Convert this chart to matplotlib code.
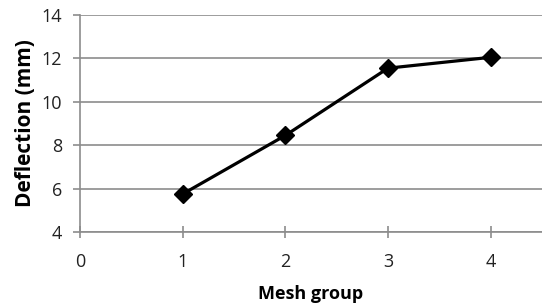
import matplotlib
matplotlib.use("Agg")
import matplotlib.pyplot as plt

mesh_group = [1, 2, 3, 4]
deflection = [5.75, 8.45, 11.55, 12.05]
x_ticks = [0, 1, 2, 3, 4]
y_ticks = [4, 6, 8, 10, 12, 14]

plt.rcParams['font.family'] = ['Open Sans', 'DejaVu Sans']

fig = plt.figure(figsize=(5.42, 3.07), dpi=100)
ax = fig.add_axes([80/542, 1-232/307, 1-80/542, (232-15)/307])

ax.plot(mesh_group, deflection, color='black', lw=2.3, marker='D', markersize=9, zorder=3, clip_on=False)

ax.set_xlim(0, 4.5)
ax.set_ylim(4, 14)
ax.set_xticks(x_ticks)
ax.set_yticks(y_ticks)
ax.grid(axis='y', color='#8c8c8c', lw=1.2)
ax.set_axisbelow(True)
for s in ['top', 'right']:
    ax.spines[s].set_visible(False)
for s in ['left', 'bottom']:
    ax.spines[s].set_color('#8c8c8c')
    ax.spines[s].set_linewidth(1.2)
ax.tick_params(axis='x', direction='inout', length=8, width=1.2, color='#8c8c8c', labelsize=13, pad=11, labelcolor='#222222')
ax.tick_params(axis='y', direction='out', length=5, width=1.2, color='#8c8c8c', labelsize=13, pad=8, labelcolor='#222222')
ax.set_xlabel('Mesh group', fontsize=13, fontweight='bold', labelpad=10)
ax.set_ylabel('Deflection (mm)', fontsize=15, fontweight='bold', labelpad=4)

fig.savefig('out.png', dpi=100)
